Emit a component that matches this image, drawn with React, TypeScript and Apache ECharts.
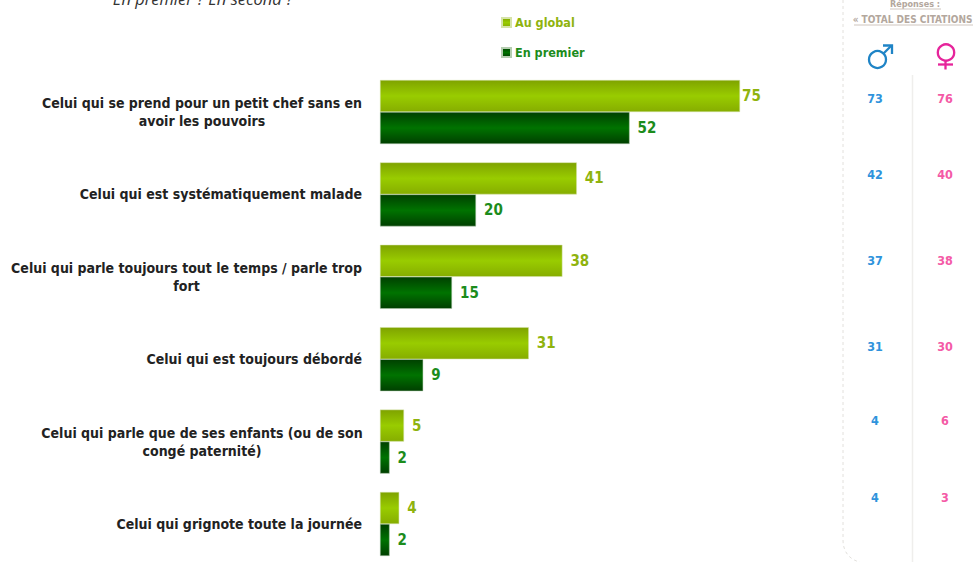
import React, { useEffect, useRef } from "react";
import * as echarts from "echarts";

const categories = [
  "Celui qui se prend pour un petit chef sans en\navoir les pouvoirs",
  "Celui qui est systématiquement malade",
  "Celui qui parle toujours tout le temps / parle trop\nfort",
  "Celui qui est toujours débordé",
  "Celui qui parle que de ses enfants (ou de son\ncongé paternité)",
  "Celui qui grignote toute la journée",
];
const auGlobal = [75, 41, 38, 31, 5, 4];
const enPremier = [52, 20, 15, 9, 2, 2];
const hommes = [73, 42, 37, 31, 4, 4];
const femmes = [76, 40, 38, 30, 6, 3];
const sideRows = [98, 174, 260, 346, 420, 497];
const titleText = "En premier ? En second ?";
const headerLines = ["Réponses :", "« TOTAL DES CITATIONS »"];

const FONT = "'DejaVu Sans Condensed', 'DejaVu Sans', sans-serif";
const GREEN_LIGHT = "#8fb30e";
const GREEN_DARK = "#1c8c1c";
const BLUE = "#2f93dc";
const PINK = "#f45aa6";
const MALE = "#1f84c6";
const FEMALE = "#e6249b";

const grad = (a: string, b: string, c: string) =>
  new echarts.graphic.LinearGradient(0, 0, 0, 1, [
    { offset: 0, color: a },
    { offset: 0.5, color: b },
    { offset: 1, color: c },
  ]);

export default function App() {
  const ref = useRef<HTMLDivElement>(null);
  useEffect(() => {
    document.body.style.margin = "0";
    const chart = echarts.init(ref.current!, undefined, { renderer: "svg" });
    const sideText = (values: number[], x: number, fill: string) =>
      values.map((v, i) => ({
        type: "text",
        x,
        y: sideRows[i],
        z: 50,
        style: { text: String(v), fill, font: `bold 12.5px ${FONT}`, align: "center", verticalAlign: "middle" },
      }));
    const richLine = (width: number) => ({
      width,
      align: "center",
      fontFamily: FONT,
      fontWeight: "bold",
      fontSize: 14,
      lineHeight: 18,
      color: "#222222",
    });
    const option = {
      animation: false,
      backgroundColor: "#ffffff",
      grid: { left: 380, top: 112, width: 480, height: 412, containLabel: false },
      legend: {
        left: 496,
        top: 11,
        orient: "vertical",
        itemWidth: 9,
        itemHeight: 9,
        itemGap: 17,
        selectedMode: false,
        icon: "rect",
        data: [
          { name: "Au global", textStyle: { color: GREEN_LIGHT } },
          { name: "En premier", textStyle: { color: GREEN_DARK } },
        ],
        textStyle: { fontFamily: FONT, fontWeight: "bold", fontSize: 12.5, padding: [0, 0, 0, -1] },
      },
      xAxis: { type: "value", min: 0, max: 100, show: false },
      yAxis: {
        type: "category",
        inverse: true,
        boundaryGap: false,
        data: categories,
        axisLine: { show: false },
        axisTick: { show: false },
        axisLabel: {
          margin: 18,
          color: "#222222",
          fontFamily: FONT,
          fontWeight: "bold",
          fontSize: 14,
          lineHeight: 18,
          formatter: (v: string) => {
            const parts = v.split("\n");
            if (parts.length === 1) return v;
            const style = parts[0].length > 46 ? "wide" : "narrow";
            return parts.map((p) => `{${style}|${p}}`).join("\n");
          },
          rich: { narrow: richLine(320), wide: richLine(351) },
        },
      },
      series: [
        {
          name: "Au global",
          type: "bar",
          clip: false,
          barWidth: 32,
          barGap: "0%",
          itemStyle: { color: grad("#7fa300", "#99cc00", "#86ad00"), borderColor: "#d5e3a8", borderWidth: 0.5 },
          label: {
            show: true,
            position: "right",
            distance: 8,
            color: GREEN_LIGHT,
            fontFamily: FONT,
            fontWeight: "bold",
            fontSize: 15,
          },
          data: auGlobal.map((value, i) => (i === 0 ? { value, label: { distance: 2 } } : { value })),
        },
        {
          name: "En premier",
          type: "bar",
          clip: false,
          barWidth: 32,
          itemStyle: { color: grad("#004000", "#007300", "#003f00"), borderColor: "#b5cdb0", borderWidth: 0.5 },
          label: {
            show: true,
            position: "right",
            distance: 8,
            color: GREEN_DARK,
            fontFamily: FONT,
            fontWeight: "bold",
            fontSize: 15,
          },
          data: enPremier,
        },
      ],
      graphic: [
        { type: "rect", z: 60, shape: { x: 0, y: 60, width: 10, height: 300 }, style: { fill: "#ffffff" } },
        {
          type: "text",
          x: 203,
          y: -2,
          z: 50,
          style: { text: titleText, fill: "#333333", font: "italic 16.5px 'Open Sans', sans-serif", align: "center", verticalAlign: "middle" },
        },
        {
          type: "text",
          x: 915,
          y: 4,
          z: 50,
          style: { text: headerLines[0], fill: "#b3a79d", font: `bold 9px ${FONT}`, align: "center", verticalAlign: "middle" },
        },
        { type: "line", z: 50, shape: { x1: 890, y1: 9, x2: 941, y2: 9 }, style: { stroke: "#cfc6bf", lineWidth: 1 } },
        {
          type: "text",
          x: 917,
          y: 19,
          z: 50,
          style: { text: headerLines[1], fill: "#b3a79d", font: `bold 10px ${FONT}`, align: "center", verticalAlign: "middle" },
        },
        { type: "line", z: 50, shape: { x1: 854, y1: 25, x2: 973, y2: 25 }, style: { stroke: "#cfc6bf", lineWidth: 1 } },
        { type: "line", z: 50, shape: { x1: 843, y1: 0, x2: 843, y2: 540 }, style: { stroke: "#e2e0dc", lineWidth: 1, lineDash: [3, 3] } },
        {
          type: "bezierCurve",
          z: 50,
          shape: { x1: 843, y1: 540, cpx1: 843, cpy1: 552, cpx2: 850, cpy2: 560, x2: 860, y2: 562 },
          style: { stroke: "#e2e0dc", lineWidth: 1, lineDash: [3, 3], fill: "none" },
        },
        { type: "line", z: 50, shape: { x1: 912.5, y1: 75, x2: 912.5, y2: 562 }, style: { stroke: "#efeeec", lineWidth: 1.5 } },
        { type: "circle", z: 50, shape: { cx: 877.5, cy: 59.5, r: 8.5 }, style: { stroke: MALE, lineWidth: 2.3, fill: "none" } },
        { type: "line", z: 50, shape: { x1: 883.5, y1: 53.5, x2: 891.5, y2: 45.5 }, style: { stroke: MALE, lineWidth: 2.3 } },
        { type: "polyline", z: 50, shape: { points: [[883, 45.5], [892, 45.5], [892, 54]] }, style: { stroke: MALE, lineWidth: 2.3, fill: "none" } },
        { type: "circle", z: 50, shape: { cx: 946, cy: 52.5, r: 8.2 }, style: { stroke: FEMALE, lineWidth: 2.3, fill: "none" } },
        { type: "line", z: 50, shape: { x1: 945.5, y1: 61, x2: 945.5, y2: 69.5 }, style: { stroke: FEMALE, lineWidth: 2.3 } },
        { type: "line", z: 50, shape: { x1: 938, y1: 64.5, x2: 953, y2: 64.5 }, style: { stroke: FEMALE, lineWidth: 2.3 } },
        ...sideText(hommes, 875, BLUE),
        ...sideText(femmes, 945, PINK),
      ],
    };
    chart.setOption(option as any);
    return () => chart.dispose();
  }, []);
  return <div ref={ref} style={{ width: 973, height: 562 }} />;
}
